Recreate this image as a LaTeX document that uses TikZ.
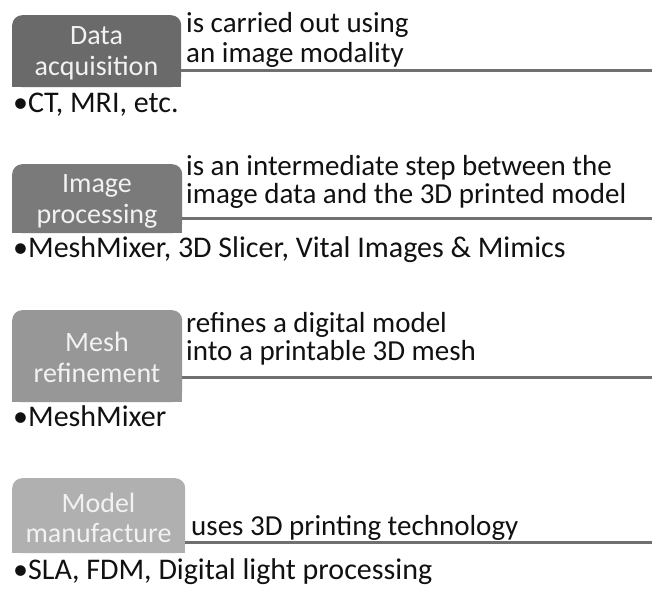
\documentclass[tikz,border=0pt]{standalone}
\usepackage{fontspec}
\setmainfont{Carlito}
\definecolor{cA}{HTML}{6A6A6A}
\definecolor{cB}{HTML}{7A7A7A}
\definecolor{cC}{HTML}{979797}
\definecolor{cD}{HTML}{B0B0B0}
\definecolor{rule}{HTML}{707070}
\definecolor{boxtxt}{HTML}{F2F2F2}
\definecolor{ink}{HTML}{111111}
\begin{document}
\begin{tikzpicture}[x=1pt,y=-1pt,
  stepbox/.style={rectangle, rounded corners=10pt, inner sep=0pt, anchor=north west, draw=none},
  boxlabel/.style={font=\fontsize{28}{31}\selectfont, text=boxtxt, inner sep=0pt, anchor=base},
  desc/.style={font=\fontsize{29}{31}\selectfont, text=ink, inner sep=0pt, anchor=base west},
  bul/.style={font=\fontsize{30}{32}\selectfont, text=ink, inner sep=0pt, anchor=base west},
  rulel/.style={draw=rule, line width=3pt}]
\useasboundingbox (0,0) rectangle (657,589);
\fill[white] (0,0) rectangle (657,589);

% ---------- Data acquisition ----------
\node[stepbox, fill=cA, minimum width=169pt, minimum height=72pt] (b1) at (12,15) {};
\fill[cA] (b1.south west) rectangle (b1.east);
\node[boxlabel] (b1l1) at (96.5,45) {Data};
\node[boxlabel] (b1l2) at (96.5,75) {acquisition};
\coordinate (e1) at (652,70);
\draw[rulel] (b1.east |- e1) -- (e1);
\node[desc] (d1a) at (186,32) {is carried out using};
\node[desc] (d1b) at (186,63) {an image modality};
\node[bul] (p1) at (13,112) {•CT, MRI, etc.};

% ---------- Image processing ----------
\node[stepbox, fill=cB, minimum width=170pt, minimum height=69pt] (b2) at (12,164) {};
\fill[cB] (b2.south west) rectangle (b2.east);
\node[boxlabel] (b2l1) at (97,192) {Image};
\node[boxlabel] (b2l2) at (97,223) {processing};
\coordinate (e2) at (652,218);
\draw[rulel] (b2.east |- e2) -- (e2);
\node[desc] (d2a) at (186,175) {is an intermediate step between the};
\node[desc] (d2b) at (186,203) {image data and the 3D printed model};
\node[bul] (p2) at (13,257) {•MeshMixer, 3D Slicer, Vital Images \& Mimics};

% ---------- Mesh refinement ----------
\node[stepbox, fill=cC, minimum width=170pt, minimum height=92pt] (b3) at (12,310) {};
\fill[cC] (b3.south west) rectangle (b3.east);
\node[boxlabel] (b3l1) at (97,351) {Mesh};
\node[boxlabel] (b3l2) at (97,382) {refinement};
\coordinate (e3) at (652,377);
\draw[rulel] (b3.east |- e3) -- (e3);
\node[desc] (d3a) at (186,332) {refines a digital model};
\node[desc] (d3b) at (186,360) {into a printable 3D mesh};
\node[bul] (p3) at (13,426) {•MeshMixer};

% ---------- Model manufacture ----------
\node[stepbox, fill=cD, minimum width=173pt, minimum height=75pt] (b4) at (12,478) {};
\fill[cD] (b4.south west) rectangle (b4.east);
\node[boxlabel] (b4l1) at (98.5,512) {Model};
\node[boxlabel] (b4l2) at (98.5,542) {manufacture};
\coordinate (e4) at (652,542);
\draw[rulel] (b4.east |- e4) -- (e4);
\node[desc] (d4a) at (191,535) {uses 3D printing technology};
\node[bul] (p4) at (13,579) {•SLA, FDM, Digital light processing};
\end{tikzpicture}
\end{document}
